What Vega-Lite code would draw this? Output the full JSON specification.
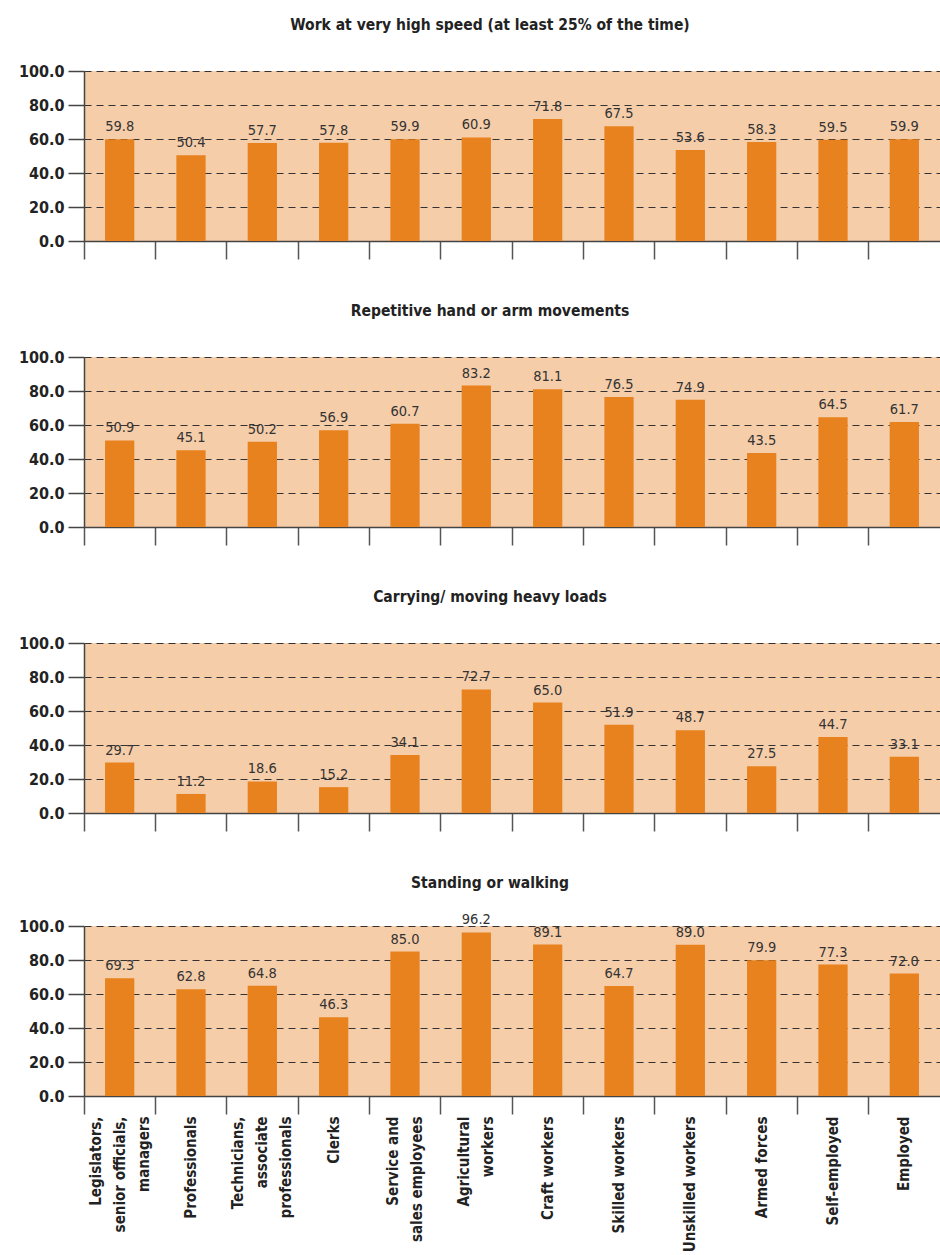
{
  "$schema": "https://vega.github.io/schema/vega-lite/v6.json",
  "padding": {"left": 5, "top": 17, "right": 0, "bottom": 0},
  "background": "white",
  "spacing": 43,
  "data": {"values": [
    {"measure": "speed", "occupation": "Legislators,|senior officials,|managers", "value": 59.8},
    {"measure": "speed", "occupation": "Professionals", "value": 50.4},
    {"measure": "speed", "occupation": "Technicians,|associate|professionals", "value": 57.7},
    {"measure": "speed", "occupation": "Clerks", "value": 57.8},
    {"measure": "speed", "occupation": "Service and|sales employees", "value": 59.9},
    {"measure": "speed", "occupation": "Agricultural|workers", "value": 60.9},
    {"measure": "speed", "occupation": "Craft workers", "value": 71.8},
    {"measure": "speed", "occupation": "Skilled workers", "value": 67.5},
    {"measure": "speed", "occupation": "Unskilled workers", "value": 53.6},
    {"measure": "speed", "occupation": "Armed forces", "value": 58.3},
    {"measure": "speed", "occupation": "Self-employed", "value": 59.5},
    {"measure": "speed", "occupation": "Employed", "value": 59.9},
    {"measure": "repetitive", "occupation": "Legislators,|senior officials,|managers", "value": 50.9},
    {"measure": "repetitive", "occupation": "Professionals", "value": 45.1},
    {"measure": "repetitive", "occupation": "Technicians,|associate|professionals", "value": 50.2},
    {"measure": "repetitive", "occupation": "Clerks", "value": 56.9},
    {"measure": "repetitive", "occupation": "Service and|sales employees", "value": 60.7},
    {"measure": "repetitive", "occupation": "Agricultural|workers", "value": 83.2},
    {"measure": "repetitive", "occupation": "Craft workers", "value": 81.1},
    {"measure": "repetitive", "occupation": "Skilled workers", "value": 76.5},
    {"measure": "repetitive", "occupation": "Unskilled workers", "value": 74.9},
    {"measure": "repetitive", "occupation": "Armed forces", "value": 43.5},
    {"measure": "repetitive", "occupation": "Self-employed", "value": 64.5},
    {"measure": "repetitive", "occupation": "Employed", "value": 61.7},
    {"measure": "loads", "occupation": "Legislators,|senior officials,|managers", "value": 29.7},
    {"measure": "loads", "occupation": "Professionals", "value": 11.2},
    {"measure": "loads", "occupation": "Technicians,|associate|professionals", "value": 18.6},
    {"measure": "loads", "occupation": "Clerks", "value": 15.2},
    {"measure": "loads", "occupation": "Service and|sales employees", "value": 34.1},
    {"measure": "loads", "occupation": "Agricultural|workers", "value": 72.7},
    {"measure": "loads", "occupation": "Craft workers", "value": 65.0},
    {"measure": "loads", "occupation": "Skilled workers", "value": 51.9},
    {"measure": "loads", "occupation": "Unskilled workers", "value": 48.7},
    {"measure": "loads", "occupation": "Armed forces", "value": 27.5},
    {"measure": "loads", "occupation": "Self-employed", "value": 44.7},
    {"measure": "loads", "occupation": "Employed", "value": 33.1},
    {"measure": "standing", "occupation": "Legislators,|senior officials,|managers", "value": 69.3},
    {"measure": "standing", "occupation": "Professionals", "value": 62.8},
    {"measure": "standing", "occupation": "Technicians,|associate|professionals", "value": 64.8},
    {"measure": "standing", "occupation": "Clerks", "value": 46.3},
    {"measure": "standing", "occupation": "Service and|sales employees", "value": 85.0},
    {"measure": "standing", "occupation": "Agricultural|workers", "value": 96.2},
    {"measure": "standing", "occupation": "Craft workers", "value": 89.1},
    {"measure": "standing", "occupation": "Skilled workers", "value": 64.7},
    {"measure": "standing", "occupation": "Unskilled workers", "value": 89.0},
    {"measure": "standing", "occupation": "Armed forces", "value": 79.9},
    {"measure": "standing", "occupation": "Self-employed", "value": 77.3},
    {"measure": "standing", "occupation": "Employed", "value": 72.0}
  ]},
  "vconcat": [
    {
      "title": {"text": "Work at very high speed (at least 25% of the time)", "offset": 30},
      "width": 856, "height": 170,
      "transform": [{"filter": "datum.measure === 'speed'"}],
      "encoding": {
        "x": {"field": "occupation", "type": "nominal", "sort": null, "title": null, "scale": {"paddingInner": 0, "paddingOuter": 0}, "axis": {"labels": false}},
        "y": {"field": "value", "type": "quantitative", "title": null, "scale": {"domain": [0, 100]}}
      },
      "layer": [
        {"mark": {"type": "bar", "width": {"band": 0.41}, "color": "#E8821E"}},
        {"mark": {"type": "text", "baseline": "bottom", "dy": -5, "fontSize": 14.5, "color": "#333333", "font": "DejaVu Sans Condensed, sans-serif"}, "encoding": {"text": {"field": "value", "type": "quantitative", "format": ".1f"}}}
      ]
    },
    {
      "title": {"text": "Repetitive hand or arm movements", "offset": 30},
      "width": 856, "height": 170,
      "transform": [{"filter": "datum.measure === 'repetitive'"}],
      "encoding": {
        "x": {"field": "occupation", "type": "nominal", "sort": null, "title": null, "scale": {"paddingInner": 0, "paddingOuter": 0}, "axis": {"labels": false}},
        "y": {"field": "value", "type": "quantitative", "title": null, "scale": {"domain": [0, 100]}}
      },
      "layer": [
        {"mark": {"type": "bar", "width": {"band": 0.41}, "color": "#E8821E"}},
        {"mark": {"type": "text", "baseline": "bottom", "dy": -5, "fontSize": 14.5, "color": "#333333", "font": "DejaVu Sans Condensed, sans-serif"}, "encoding": {"text": {"field": "value", "type": "quantitative", "format": ".1f"}}}
      ]
    },
    {
      "title": {"text": "Carrying/ moving heavy loads", "offset": 30},
      "width": 856, "height": 170,
      "transform": [{"filter": "datum.measure === 'loads'"}],
      "encoding": {
        "x": {"field": "occupation", "type": "nominal", "sort": null, "title": null, "scale": {"paddingInner": 0, "paddingOuter": 0}, "axis": {"labels": false}},
        "y": {"field": "value", "type": "quantitative", "title": null, "scale": {"domain": [0, 100]}}
      },
      "layer": [
        {"mark": {"type": "bar", "width": {"band": 0.41}, "color": "#E8821E"}},
        {"mark": {"type": "text", "baseline": "bottom", "dy": -5, "fontSize": 14.5, "color": "#333333", "font": "DejaVu Sans Condensed, sans-serif"}, "encoding": {"text": {"field": "value", "type": "quantitative", "format": ".1f"}}}
      ]
    },
    {
      "title": {"text": "Standing or walking", "offset": 21},
      "width": 856, "height": 170,
      "transform": [{"filter": "datum.measure === 'standing'"}],
      "encoding": {
        "x": {"field": "occupation", "type": "nominal", "sort": null, "title": null, "scale": {"paddingInner": 0, "paddingOuter": 0},
              "axis": {"labels": true, "labelExpr": "split(datum.label, '|')", "labelAngle": -90, "labelAlign": "right", "labelBaseline": "middle",
                       "labelOffset": {"condition": [{"test": "length(split(datum.value, '|')) == 3", "value": -24}, {"test": "length(split(datum.value, '|')) == 2", "value": -12}], "value": 0},
                       "labelFontSize": 15, "labelFontWeight": "bold", "labelLineHeight": 24, "labelPadding": 2, "labelColor": "#222222", "labelFont": "DejaVu Sans Condensed, sans-serif", "labelLimit": 300}},
        "y": {"field": "value", "type": "quantitative", "title": null, "scale": {"domain": [0, 100]}}
      },
      "layer": [
        {"mark": {"type": "bar", "width": {"band": 0.41}, "color": "#E8821E"}},
        {"mark": {"type": "text", "baseline": "bottom", "dy": -5, "fontSize": 14.5, "color": "#333333", "font": "DejaVu Sans Condensed, sans-serif"}, "encoding": {"text": {"field": "value", "type": "quantitative", "format": ".1f"}}}
      ]
    }
  ],
  "config": {
    "view": {"fill": "#F6CDA9", "stroke": null},
    "title": {"font": "DejaVu Sans Condensed, sans-serif", "fontSize": 15.5, "fontWeight": "bold", "color": "#222222", "anchor": "middle", "dx": -22},
    "axisY": {"values": [0, 20, 40, 60, 80, 100], "format": ".1f", "grid": true, "gridDash": [7, 5], "gridColor": "#333333", "gridOpacity": 1, "gridWidth": 1.2, "tickSize": 16, "tickColor": "#444444", "tickWidth": 1.5, "domainColor": "#444444", "domainWidth": 1.5, "labelFont": "DejaVu Sans Condensed, sans-serif", "labelFontSize": 16, "labelFontWeight": "bold", "labelColor": "#222222", "labelPadding": 4, "minExtent": 79, "maxExtent": 79},
    "axisX": {"grid": false, "tickSize": 18, "bandPosition": 0, "tickColor": "#555555", "tickWidth": 1.5, "domainColor": "#444444", "domainWidth": 1.5}
  }
}
